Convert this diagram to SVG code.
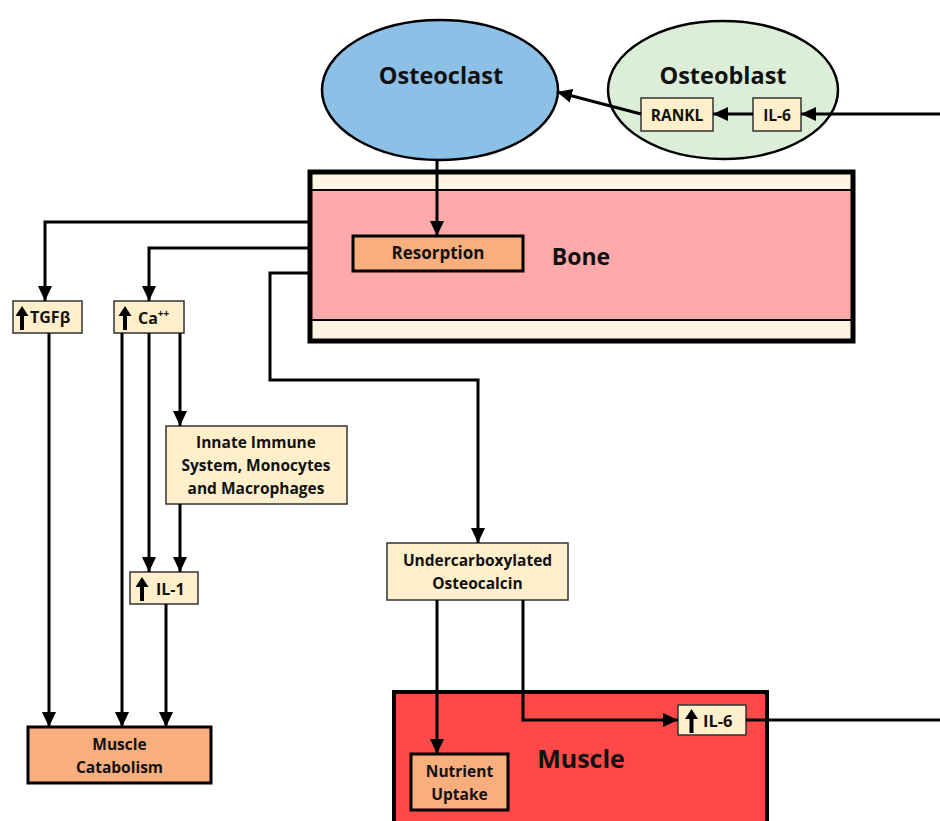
<svg xmlns="http://www.w3.org/2000/svg" width="940" height="821" viewBox="0 0 940 821">
<style>
text{font-family:"Open Sans",Lato,"Liberation Sans",sans-serif;font-weight:700;fill:#111}
.lbl{font-size:15.5px;text-anchor:middle}
.cream{fill:#FFF0CB;stroke:#333;stroke-width:1.5}
.orange{fill:#F9AE7E;stroke:#000;stroke-width:3}
.conn{fill:none;stroke:#000;stroke-width:3}
.up{fill:#000}
</style>
<defs>
<marker id="ah" markerUnits="userSpaceOnUse" markerWidth="16" markerHeight="16" viewBox="0 0 16 16" refX="15" refY="8" orient="auto">
<path d="M0,1 L15,8 L0,15 Z" fill="#000"/>
</marker>
<path id="uparrow" d="M0,0 L6.5,-10 L13,0 L8.5,0 L8.5,14 L4.5,14 L4.5,0 Z"/>
</defs>
<rect width="940" height="821" fill="#fff"/>

<g id="bone">
<rect x="310" y="172" width="543" height="169" fill="#FFF4E2"/>
<rect x="310" y="190" width="543" height="130" fill="#FFA9AB" stroke="#000" stroke-width="2"/>
<rect x="310" y="172" width="543" height="169" fill="none" stroke="#000" stroke-width="5"/>
<text x="581" y="265" style="font-size:23px;text-anchor:middle">Bone</text>
</g>

<g id="muscle">
<rect x="394" y="692" width="373" height="140" fill="#FF4848" stroke="#000" stroke-width="4"/>
<text x="581" y="768" style="font-size:25px;text-anchor:middle">Muscle</text>
</g>

<g id="osteoclast">
<ellipse cx="440" cy="90" rx="118" ry="70" fill="#8DC0E6" stroke="#000" stroke-width="2.5"/>
<text x="441" y="84" style="font-size:23.5px;text-anchor:middle">Osteoclast</text>
</g>

<g id="osteoblast">
<ellipse cx="723" cy="90" rx="115" ry="69" fill="#DDEED8" stroke="#000" stroke-width="2.5"/>
<text x="723" y="84" style="font-size:23.5px;text-anchor:middle">Osteoblast</text>
</g>

<g id="rankl">
<rect class="cream" x="641" y="98" width="72" height="33"/>
<text class="lbl" x="677" y="121" style="font-size:15.5px">RANKL</text>
</g>

<g id="il6-top">
<rect class="cream" x="753" y="98" width="48" height="33"/>
<text class="lbl" x="777" y="121" style="font-size:15.5px">IL-6</text>
</g>

<g id="resorption">
<rect class="orange" x="353" y="236" width="170" height="35"/>
<text class="lbl" x="438" y="259" style="font-size:17px">Resorption</text>
</g>

<g id="tgfb">
<rect class="cream" x="13" y="301" width="69" height="32"/>
<use href="#uparrow" x="15.5" y="316" class="up"/>
<text x="30" y="323" style="font-size:16px">TGFβ</text>
</g>

<g id="ca">
<rect class="cream" x="114" y="301" width="70" height="32"/>
<use href="#uparrow" x="118.5" y="316" class="up"/>
<text x="138" y="324" style="font-size:16px">Ca<tspan dy="-7" style="font-size:10px">++</tspan></text>
</g>

<g id="innate">
<rect class="cream" x="166" y="426" width="181" height="78"/>
<text class="lbl" x="256" y="448">Innate Immune</text>
<text class="lbl" x="256" y="471">System, Monocytes</text>
<text class="lbl" x="256" y="494">and Macrophages</text>
</g>

<g id="il1">
<rect class="cream" x="130" y="572" width="68" height="32"/>
<use href="#uparrow" x="135.5" y="587" class="up"/>
<text x="156" y="595" style="font-size:16px">IL-1</text>
</g>

<g id="muscle-catabolism">
<rect class="orange" x="28" y="727" width="183" height="56"/>
<text class="lbl" x="119.5" y="750">Muscle</text>
<text class="lbl" x="119.5" y="773">Catabolism</text>
</g>

<g id="osteocalcin">
<rect class="cream" x="387" y="543" width="181" height="57"/>
<text class="lbl" x="477.5" y="566">Undercarboxylated</text>
<text class="lbl" x="477.5" y="589">Osteocalcin</text>
</g>

<g id="nutrient">
<rect class="orange" x="411" y="754" width="97" height="56"/>
<text class="lbl" x="459.5" y="777">Nutrient</text>
<text class="lbl" x="459.5" y="800">Uptake</text>
</g>

<g id="il6-muscle">
<rect class="cream" x="678" y="705" width="68" height="30"/>
<use href="#uparrow" x="685" y="719" class="up"/>
<text x="703" y="727" style="font-size:16.5px">IL-6</text>
</g>

<g id="connectors">
<path class="conn" d="M940,114 H801" marker-end="url(#ah)"/>
<path class="conn" d="M753,114 H713" marker-end="url(#ah)"/>
<path class="conn" d="M641,114 L557,92" marker-end="url(#ah)"/>
<path class="conn" d="M437,160 V236" marker-end="url(#ah)"/>
<path class="conn" d="M310,222 H45 V301" marker-end="url(#ah)"/>
<path class="conn" d="M310,248 H149 V301" marker-end="url(#ah)"/>
<path class="conn" d="M310,273 H270 V380 H478 V543" marker-end="url(#ah)"/>
<path class="conn" d="M49,333 V727" marker-end="url(#ah)"/>
<path class="conn" d="M122,333 V727" marker-end="url(#ah)"/>
<path class="conn" d="M149,333 V572" marker-end="url(#ah)"/>
<path class="conn" d="M180,333 V426" marker-end="url(#ah)"/>
<path class="conn" d="M180,504 V572" marker-end="url(#ah)"/>
<path class="conn" d="M166,604 V727" marker-end="url(#ah)"/>
<path class="conn" d="M437,600 V754" marker-end="url(#ah)"/>
<path class="conn" d="M523,600 V720 H678" marker-end="url(#ah)"/>
<path class="conn" d="M746,720 H940"/>
</g>
</svg>
